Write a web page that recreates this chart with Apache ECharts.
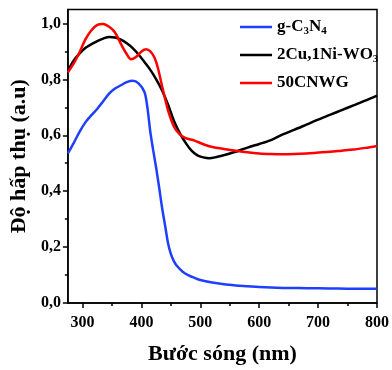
<!DOCTYPE html>
<html>
<head>
<meta charset="utf-8">
<script src="https://cdn.jsdelivr.net/npm/echarts@6/dist/echarts.min.js"></script>
<style>
  html, body { margin: 0; padding: 0; background: #fff; }
  #chart { width: 392px; height: 370px; }
</style>
</head>
<body>
<div id="chart"></div>
<script>
// Absorption spectra: wavelength (nm) vs absorbance (a.u.)
const gcnWavelength = [275, 285, 295, 305, 315, 325, 335, 345, 355, 365, 375, 385, 395, 405, 410, 415, 420, 425, 430, 435, 440, 445, 450, 455, 460, 470, 480, 490, 500, 520, 540, 560, 580, 600, 640, 680, 720, 760, 800];
const gcnAbsorbance = [0.535, 0.573, 0.613, 0.647, 0.672, 0.695, 0.722, 0.749, 0.767, 0.779, 0.79, 0.795, 0.786, 0.755, 0.70, 0.612, 0.545, 0.482, 0.413, 0.34, 0.278, 0.215, 0.175, 0.15, 0.133, 0.112, 0.099, 0.09, 0.082, 0.073, 0.067, 0.063, 0.06, 0.057, 0.054, 0.053, 0.052, 0.051, 0.051];

const wo3Wavelength = [275, 285, 295, 305, 315, 325, 335, 345, 355, 365, 375, 385, 395, 405, 415, 425, 435, 445, 455, 465, 475, 485, 495, 505, 515, 525, 540, 560, 580, 600, 620, 640, 660, 680, 700, 720, 740, 760, 780, 800];
const wo3Absorbance = [0.831, 0.868, 0.893, 0.913, 0.926, 0.937, 0.946, 0.952, 0.95, 0.942, 0.929, 0.912, 0.889, 0.862, 0.834, 0.80, 0.76, 0.71, 0.652, 0.608, 0.573, 0.545, 0.528, 0.521, 0.518, 0.521, 0.529, 0.541, 0.556, 0.569, 0.583, 0.603, 0.62, 0.638, 0.656, 0.673, 0.69, 0.707, 0.724, 0.742];

const cnwgWavelength = [275, 285, 295, 305, 315, 325, 335, 345, 355, 365, 375, 382, 390, 400, 408, 415, 422, 428, 435, 445, 455, 465, 475, 490, 505, 520, 540, 560, 580, 600, 620, 640, 660, 680, 700, 720, 740, 760, 780, 800];
const cnwgAbsorbance = [0.825, 0.857, 0.898, 0.944, 0.976, 0.995, 0.998, 0.988, 0.968, 0.927, 0.89, 0.872, 0.879, 0.90, 0.908, 0.90, 0.878, 0.84, 0.775, 0.69, 0.632, 0.603, 0.59, 0.581, 0.568, 0.558, 0.551, 0.545, 0.539, 0.535, 0.533, 0.532, 0.533, 0.535, 0.538, 0.541, 0.545, 0.549, 0.555, 0.562];

const seriesNames = ['g-C3N4', '2Cu,1Ni-WO3', '50CNWG'];
const legendLabels = {
  'g-C3N4': 'g-C{sub|3}N{sub|4}',
  '2Cu,1Ni-WO3': '2Cu,1Ni-WO{sub|3}',
  '50CNWG': '50CNWG'
};

const xTickValues = [300, 400, 500, 600, 700, 800];
const xMinorTickValues = [350, 450, 550, 650, 750];
const yTickValues = [0, 0.2, 0.4, 0.6, 0.8, 1.0];
const yMinorTickValues = [0.1, 0.3, 0.5, 0.7, 0.9];

const serifBold = { fontFamily: '"Liberation Serif", "Times New Roman", serif', fontWeight: 'bold', color: '#000' };

function pairs(xs, ys) { return xs.map((x, i) => [x, ys[i]]); }

const chart = echarts.init(document.getElementById('chart'), null, { renderer: 'canvas' });

const axisLine = { show: true, onZero: false, lineStyle: { color: '#000', width: 1.5 } };
const tickLine = { color: '#000', width: 1.5 };

chart.setOption({
  animation: false,
  grid: { left: 63, right: 14, top: 9.5, bottom: 64, show: true, borderColor: '#000', borderWidth: 1.5 },
  legend: {
    data: seriesNames,
    orient: 'vertical',
    left: 240,
    top: 17,
    padding: 0,
    icon: 'rect',
    itemWidth: 32,
    itemHeight: 2.5,
    itemGap: 8,
    textStyle: Object.assign({ fontSize: 17, lineHeight: 20,
      rich: { sub: Object.assign({ fontSize: 11, padding: [9, 0, 0, 0] }, serifBold) } }, serifBold),
    formatter: name => legendLabels[name]
  },
  xAxis: [{
    type: 'value', min: 275, max: 800,
    axisLine: axisLine,
    axisTick: { show: true, inside: false, length: 5, customValues: xTickValues, lineStyle: tickLine },
    axisLabel: Object.assign({ fontSize: 16, margin: 12, customValues: xTickValues }, serifBold),
    splitLine: { show: false },
    name: 'Bước sóng (nm)', nameLocation: 'middle', nameGap: 40,
    nameTextStyle: Object.assign({ fontSize: 22 }, serifBold)
  }, {
    type: 'value', min: 275, max: 800, position: 'bottom',
    axisLine: { show: false },
    axisTick: { show: true, inside: false, length: 3, customValues: xMinorTickValues, lineStyle: tickLine },
    axisLabel: { show: false },
    splitLine: { show: false }
  }],
  yAxis: [{
    type: 'value', min: 0, max: 1.05,
    axisLine: axisLine,
    axisTick: { show: true, inside: false, length: 5, customValues: yTickValues, lineStyle: tickLine },
    axisLabel: Object.assign({ fontSize: 16, margin: 7, customValues: yTickValues,
      formatter: v => v.toFixed(1).replace('.', ',') }, serifBold),
    splitLine: { show: false },
    name: 'Độ hấp thụ (a.u)', nameLocation: 'middle', nameGap: 35,
    nameTextStyle: Object.assign({ fontSize: 22 }, serifBold)
  }, {
    type: 'value', min: 0, max: 1.05, position: 'left',
    axisLine: { show: false },
    axisTick: { show: true, inside: false, length: 3, customValues: yMinorTickValues, lineStyle: tickLine },
    axisLabel: { show: false },
    splitLine: { show: false }
  }],
  series: [
    { name: 'g-C3N4', type: 'line', data: pairs(gcnWavelength, gcnAbsorbance), smooth: 0.3, symbol: 'none',
      lineStyle: { color: '#1f3fff', width: 2.5 }, itemStyle: { color: '#1f3fff' } },
    { name: '2Cu,1Ni-WO3', type: 'line', data: pairs(wo3Wavelength, wo3Absorbance), smooth: 0.3, symbol: 'none',
      lineStyle: { color: '#000', width: 2.5 }, itemStyle: { color: '#000' } },
    { name: '50CNWG', type: 'line', data: pairs(cnwgWavelength, cnwgAbsorbance), smooth: 0.3, symbol: 'none',
      lineStyle: { color: '#ff0000', width: 2.5 }, itemStyle: { color: '#ff0000' } }
  ]
});
</script>
</body>
</html>
